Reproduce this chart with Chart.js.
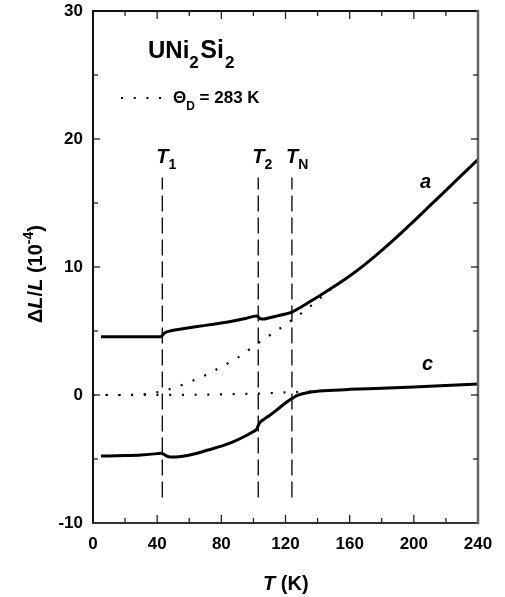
<!DOCTYPE html>
<html><head><meta charset="utf-8">
<script src="https://cdn.jsdelivr.net/npm/chart.js@4/dist/chart.umd.min.js"></script>
<style>html,body{margin:0;padding:0;background:#fff}canvas{display:block}</style>
</head><body>
<canvas id="c" width="505" height="597"></canvas>
<script>
// ---- data ----
const aT = [5, 20, 35, 42, 43, 44, 46, 48, 55, 65, 75, 85, 95, 102, 103, 104, 106, 110, 115, 120, 124, 130, 140, 150, 160, 170, 180, 190, 200, 210, 220, 230, 240];
const aV = [4.55, 4.55, 4.55, 4.56, 4.62, 4.78, 4.93, 5.0, 5.15, 5.35, 5.53, 5.73, 5.97, 6.18, 6.12, 5.97, 5.93, 6.03, 6.18, 6.33, 6.48, 6.9, 7.65, 8.45, 9.3, 10.25, 11.3, 12.42, 13.59, 14.79, 15.99, 17.2, 18.4];
const cT = [5, 20, 30, 40, 42, 44, 46, 48, 55, 65, 71, 80, 88, 95, 100, 102, 103, 104, 106, 110, 115, 120, 124, 127, 130, 137, 150, 160, 180, 200, 220, 240];
const cV = [-4.77, -4.73, -4.68, -4.58, -4.55, -4.62, -4.78, -4.85, -4.8, -4.55, -4.32, -4.0, -3.62, -3.2, -2.85, -2.68, -2.4, -2.15, -1.95, -1.6, -1.12, -0.62, -0.28, -0.05, 0.08, 0.26, 0.38, 0.44, 0.53, 0.63, 0.74, 0.85];
const debyeAT = [0, 20, 30, 40, 50, 60, 70, 80, 90, 100, 110, 120, 130, 140, 150];
const debyeAV = [0, 0, 0.05, 0.2, 0.55, 1.0, 1.55, 2.2, 2.9, 3.8, 4.65, 5.5, 6.4, 7.4, 8.45];
const debyeCT = [0, 40, 80, 100, 120, 130, 140];
const debyeCV = [0, 0, 0.05, 0.1, 0.2, 0.25, 0.33];
const transitions = [{name: '1', T: 43.2}, {name: '2', T: 103}, {name: 'N', T: 124}];
const transLineRange = [-8, 17];
const xTickStep = 20, xLabelStep = 40, yTickStep = 5, yLabelStep = 10;
const xRange = [0, 240], yRange = [-10, 30];

const pts = (xs, ys) => xs.map((x, i) => ({x, y: ys[i]}));
const FONT = '"Liberation Sans", Arial, Helvetica, sans-serif';

const datasets = [
  {data: pts(aT, aV), borderColor: '#000', borderWidth: 3, pointRadius: 0, cubicInterpolationMode: 'monotone'},
  {data: pts(cT, cV), borderColor: '#000', borderWidth: 3, pointRadius: 0, cubicInterpolationMode: 'monotone'},
  {data: pts(debyeAT, debyeAV), borderColor: '#000', borderWidth: 2.2, borderDash: [2, 10.7], borderCapStyle: 'butt', pointRadius: 0, cubicInterpolationMode: 'monotone'},
  {data: pts(debyeCT, debyeCV), borderColor: '#000', borderWidth: 2.2, borderDash: [2, 10.7], borderCapStyle: 'butt', pointRadius: 0, cubicInterpolationMode: 'monotone'},
];
transitions.forEach(t => datasets.push({
  data: [{x: t.T, y: transLineRange[0]}, {x: t.T, y: transLineRange[1]}],
  borderColor: '#000', borderWidth: 1.3, borderDash: [16, 6], pointRadius: 0
}));

const decor = {
  id: 'decor',
  afterDraw(chart) {
    const ctx = chart.ctx, a = chart.chartArea, xs = chart.scales.x, ys = chart.scales.y;
    ctx.save();
    // frame
    ctx.lineCap = 'square';
    ctx.lineWidth = 2;
    ctx.strokeStyle = '#111';
    ctx.beginPath(); ctx.moveTo(a.left, a.bottom); ctx.lineTo(a.left, a.top); ctx.lineTo(a.right, a.top); ctx.stroke();
    ctx.strokeStyle = '#333';
    ctx.beginPath(); ctx.moveTo(a.left, a.bottom); ctx.lineTo(a.right, a.bottom); ctx.stroke();
    ctx.strokeStyle = '#666'; ctx.lineWidth = 2.5;
    ctx.beginPath(); ctx.moveTo(a.right, a.top); ctx.lineTo(a.right, a.bottom); ctx.stroke();
    // inward ticks
    ctx.lineWidth = 1.3; ctx.strokeStyle = '#222'; ctx.lineCap = 'butt';
    xs.ticks.forEach(t => {
      const px = xs.getPixelForValue(t.value);
      if (t.value <= xRange[0] || t.value >= xRange[1]) return;
      const len = t.value % xLabelStep === 0 ? 8 : 5;
      ctx.beginPath(); ctx.moveTo(px, a.bottom); ctx.lineTo(px, a.bottom - len); ctx.stroke();
      ctx.beginPath(); ctx.moveTo(px, a.top); ctx.lineTo(px, a.top + len); ctx.stroke();
    });
    ys.ticks.forEach(t => {
      const py = ys.getPixelForValue(t.value);
      if (t.value <= yRange[0] || t.value >= yRange[1]) return;
      const len = t.value % yLabelStep === 0 ? 7 : 5;
      ctx.beginPath(); ctx.moveTo(a.left, py); ctx.lineTo(a.left + len, py); ctx.stroke();
      ctx.beginPath(); ctx.moveTo(a.right, py); ctx.lineTo(a.right - len, py); ctx.stroke();
    });
    ctx.fillStyle = '#000';
    ctx.textBaseline = 'alphabetic';
    ctx.textAlign = 'left';
    // title UNi2Si2
    let x = 148;
    const seg = (txt, font, y) => { ctx.font = font; ctx.fillText(txt, x, y); x += ctx.measureText(txt).width; };
    seg('UNi', 'bold 24px ' + FONT, 58);
    seg('2', 'bold 17px ' + FONT, 68);
    x += 1.5;
    seg('Si', 'bold 25px ' + FONT, 58);
    x += 1;
    seg('2', 'bold 17px ' + FONT, 68);
    // legend for dotted line
    ctx.save();
    ctx.setLineDash([2, 10.7]); ctx.lineWidth = 2.2; ctx.strokeStyle = '#000';
    ctx.beginPath(); ctx.moveTo(121, 98); ctx.lineTo(163, 98); ctx.stroke();
    ctx.restore();
    x = 173;
    seg('\u0398', 'bold 17px ' + FONT, 103);
    seg('D', 'bold 12px ' + FONT, 110);
    seg(' = 283 K', 'bold 17px ' + FONT, 103);
    // transition labels
    transitions.forEach(t => {
      const px = xs.getPixelForValue(t.T);
      x = px - 6;
      seg('T', 'italic bold 20px ' + FONT, 163);
      seg(t.name, 'bold 14px ' + FONT, 169);
    });
    // curve labels
    ctx.font = 'italic bold 20px ' + FONT;
    ctx.fillText('a', 420, 188);
    ctx.fillText('c', 422, 370);
    // x title
    x = 263;
    seg('T', 'italic bold 20px ' + FONT, 590);
    seg(' (K)', 'bold 20px ' + FONT, 590);
    // y title
    ctx.save();
    ctx.translate(42, 323);
    ctx.rotate(-Math.PI / 2);
    x = 0;
    seg('\u0394', 'bold 20px ' + FONT, 0);
    seg('L', 'italic bold 20px ' + FONT, 0);
    seg('/', 'bold 20px ' + FONT, 0);
    seg('L', 'italic bold 20px ' + FONT, 0);
    seg(' (10', 'bold 20px ' + FONT, 0);
    seg('-4', 'bold 14px ' + FONT, -9);
    seg(')', 'bold 20px ' + FONT, 0);
    ctx.restore();
    ctx.restore();
  }
};

new Chart(document.getElementById('c'), {
  type: 'line',
  data: {datasets},
  options: {
    responsive: false, animation: false, devicePixelRatio: 1,
    layout: {padding: {left: 0, top: 11, right: 27, bottom: 0}},
    plugins: {legend: {display: false}, tooltip: {enabled: false}},
    scales: {
      x: {
        type: 'linear', min: xRange[0], max: xRange[1],
        grid: {display: false, drawTicks: false}, border: {display: false},
        ticks: {stepSize: xTickStep, autoSkip: false, maxRotation: 0, padding: 11, color: '#000',
          font: {family: FONT, size: 17, weight: 'bold'},
          callback: v => (v % xLabelStep === 0 ? String(v) : '')},
        afterFit(s) { s.height = 74; s.paddingLeft = 0; s.paddingRight = 0; }
      },
      y: {
        type: 'linear', min: yRange[0], max: yRange[1],
        grid: {display: false, drawTicks: false}, border: {display: false},
        ticks: {stepSize: yTickStep, autoSkip: false, padding: 10, color: '#000',
          font: {family: FONT, size: 17, weight: 'bold'},
          callback: v => (v % yLabelStep === 0 ? String(v) : '')},
        afterFit(s) { s.width = 93; s.paddingTop = 0; s.paddingBottom = 0; }
      }
    }
  },
  plugins: [decor]
});
</script>
</body></html>
